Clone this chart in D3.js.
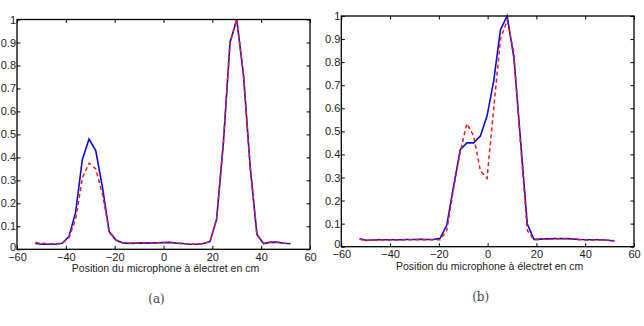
<!DOCTYPE html>
<meta charset="utf-8">
<script src="https://d3js.org/d3.v7.min.js"></script>
<style>
  body { margin: 0; background: #fff; }
  text { font-family: "Liberation Sans", Arial, Helvetica, sans-serif; }
</style>
<div id="chart"></div>
<script>
// microphone positions (cm), shared by both panels
const positions = [-52.5, -49.75, -47, -44.25, -41.5, -38.75, -36, -33.25, -30.5, -27.75,
  -25, -22.25, -19.5, -16.75, -14, -11.25, -8.5, -5.75, -3, -0.25,
  2.5, 5.25, 8, 10.75, 13.5, 16.25, 19, 21.75, 24.5, 27.25,
  30, 32.75, 35.5, 38.25, 41, 43.75, 46.5, 49.25, 52];

// panel (a)
const solidA = [0.025, 0.022, 0.022, 0.022, 0.026, 0.055, 0.16, 0.39, 0.48, 0.43,
  0.27, 0.077, 0.04, 0.028, 0.026, 0.027, 0.028, 0.027, 0.028, 0.029,
  0.03, 0.027, 0.025, 0.022, 0.022, 0.025, 0.033, 0.13, 0.46, 0.9,
  1.0, 0.76, 0.36, 0.065, 0.025, 0.03, 0.031, 0.026, 0.024];
const dashedA = [0.03, 0.026, 0.024, 0.024, 0.026, 0.05, 0.13, 0.31, 0.375, 0.35,
  0.24, 0.08, 0.04, 0.028, 0.026, 0.027, 0.028, 0.027, 0.028, 0.029,
  0.03, 0.027, 0.025, 0.022, 0.022, 0.025, 0.033, 0.13, 0.46, 0.9,
  1.0, 0.76, 0.36, 0.065, 0.025, 0.032, 0.031, 0.027, 0.025];

// panel (b)
const solidB = [0.034, 0.028, 0.029, 0.03, 0.03, 0.03, 0.03, 0.031, 0.031, 0.032,
  0.031, 0.031, 0.036, 0.094, 0.26, 0.42, 0.45, 0.45, 0.48, 0.566,
  0.72, 0.94, 1.0, 0.82, 0.46, 0.098, 0.032, 0.033, 0.034, 0.035,
  0.035, 0.035, 0.033, 0.031, 0.03, 0.03, 0.03, 0.028, 0.025];
const dashedB = [0.032, 0.027, 0.028, 0.029, 0.029, 0.029, 0.029, 0.03, 0.03, 0.031,
  0.03, 0.03, 0.03, 0.07, 0.25, 0.41, 0.534, 0.48, 0.33, 0.296,
  0.6, 0.9, 0.98, 0.84, 0.44, 0.07, 0.03, 0.032, 0.033, 0.034,
  0.034, 0.034, 0.032, 0.03, 0.029, 0.029, 0.029, 0.028, 0.026];

const xTicks = [-60, -40, -20, 0, 20, 40, 60];
const xTickLabels = ["\u221260", "\u221240", "\u221220", "0", "20", "40", "60"];
const yTicks = [0, 0.1, 0.2, 0.3, 0.4, 0.5, 0.6, 0.7, 0.8, 0.9, 1];
const yTickLabels = ["0", "0.1", "0.2", "0.3", "0.4", "0.5", "0.6", "0.7", "0.8", "0.9", "1"];
const xLabel = "Position du microphone à électret en cm";

const svg = d3.select("#chart").append("svg")
  .attr("width", 644)
  .attr("height", 326);

function drawPanel(box, solid, dashed, caption) {
  const x = d3.scaleLinear().domain([-60, 60]).range([box.left, box.right]);
  const y = d3.scaleLinear().domain([0, 1]).range([box.bottom, box.top]);
  const g = svg.append("g");

  // curves
  const line = vals => d3.line()
    .x((d, i) => x(positions[i]))
    .y(d => y(d))(vals);

  g.append("path")
    .attr("d", line(solid))
    .attr("fill", "none")
    .attr("stroke", "#0c0ce8")
    .attr("stroke-width", 1.6);

  g.append("path")
    .attr("d", line(dashed))
    .attr("fill", "none")
    .attr("stroke", "#f01818")
    .attr("stroke-width", 1.5)
    .attr("stroke-dasharray", "4,3");

  // axes, ticks pointing inward (matlab box style)
  const tk = 3.5;
  g.append("g")
    .attr("transform", "translate(0," + box.bottom + ")")
    .call(d3.axisBottom(x).tickValues(xTicks)
      .tickFormat((d, i) => xTickLabels[i])
      .tickSizeInner(-tk).tickSizeOuter(0).tickPadding(3.5));
  const yAxis = g.append("g")
    .attr("transform", "translate(" + box.left + ",0)")
    .call(d3.axisLeft(y).tickValues(yTicks)
      .tickFormat((d, i) => yTickLabels[i])
      .tickSizeInner(-tk).tickSizeOuter(0).tickPadding(1));
  // the "0" sits right on top of the x labels, lift it a little
  yAxis.selectAll(".tick text").filter(d => d === 0).attr("dy", "0.1em");
  g.append("g")
    .attr("transform", "translate(0," + box.top + ")")
    .call(d3.axisTop(x).tickValues(xTicks).tickFormat("")
      .tickSizeInner(-tk).tickSizeOuter(0));
  g.append("g")
    .attr("transform", "translate(" + box.right + ",0)")
    .call(d3.axisRight(y).tickValues(yTicks).tickFormat("")
      .tickSizeInner(-tk).tickSizeOuter(0));

  g.selectAll(".domain").remove();
  g.selectAll(".tick line").attr("stroke", "#000").attr("stroke-width", 1);
  g.selectAll(".tick text")
    .attr("fill", "#222")
    .style("font-size", "11px")
    .style("font-family", "'Liberation Sans', Arial, sans-serif");

  g.append("rect")
    .attr("x", box.left)
    .attr("y", box.top)
    .attr("width", box.right - box.left)
    .attr("height", box.bottom - box.top)
    .attr("fill", "none")
    .attr("stroke", "#000")
    .attr("stroke-width", 1.3);

  g.append("text")
    .attr("x", (box.left + box.right) / 2 + 2)
    .attr("y", box.bottom + 23)
    .attr("text-anchor", "middle")
    .attr("fill", "#222")
    .style("font-size", "10.5px")
    .text(xLabel);

  g.append("text")
    .attr("x", (box.left + box.right) / 2 - 7)
    .attr("y", box.bottom + 54)
    .attr("text-anchor", "middle")
    .attr("fill", "#444")
    .style("font-family", "'DejaVu Serif', 'Liberation Serif', serif")
    .style("font-size", "12px")
    .text(caption);
}

drawPanel({left: 17, right: 310, top: 19.5, bottom: 249.3}, solidA, dashedA, "(a)");
drawPanel({left: 341.3, right: 634, top: 16, bottom: 246.7}, solidB, dashedB, "(b)");
</script>
